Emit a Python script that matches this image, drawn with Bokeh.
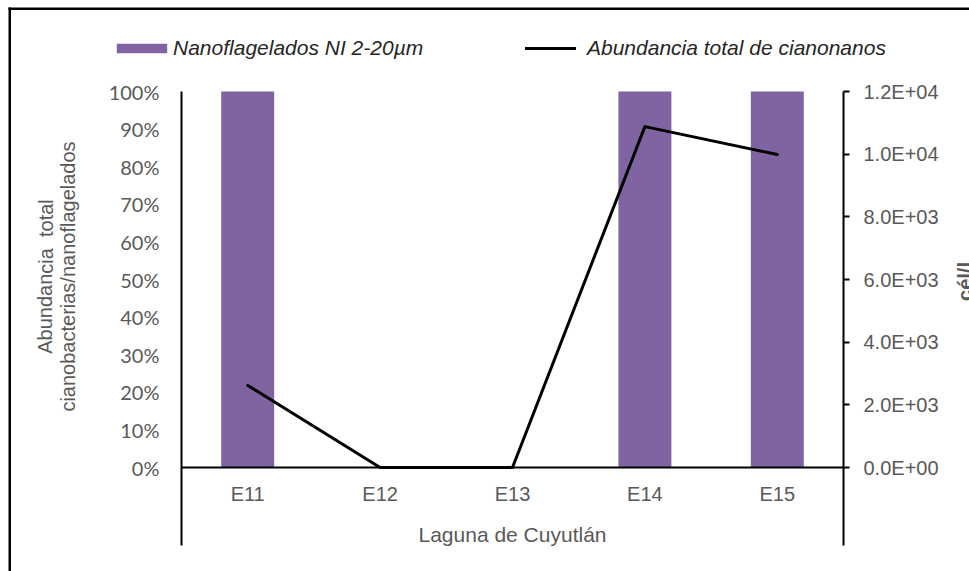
from bokeh.plotting import figure
from bokeh.models import (Range1d, LinearAxis, FixedTicker, NumeralTickFormatter,
                          Label, Legend, LegendItem, BoxAnnotation)
from bokeh.embed import file_html
from bokeh.resources import INLINE

# ---- data ----
categories = ["E11", "E12", "E13", "E14", "E15"]
nanoflagelados = [1.0, 0.0, 0.0, 1.0, 1.0]          # fraction (0-100%)
abundancia_cianonanos = [2620, 0, 0, 10880, 9990]   # cél/l
series_names = ["Nanoflagelados NI 2-20µm", "Abundancia total de cianonanos"]
left_ticks = [0, 0.1, 0.2, 0.3, 0.4, 0.5, 0.6, 0.7, 0.8, 0.9, 1.0]
right_ticks = [0, 2000, 4000, 6000, 8000, 10000, 12000]
right_tick_labels = ["0.0E+00", "2.0E+03", "4.0E+03", "6.0E+03", "8.0E+03", "1.0E+04", "1.2E+04"]
x_title = "Laguna de Cuyutlán"
y_title_lines = ["Abundancia\u00a0 total", "cianobacterias/nanoflagelados"]
y2_title = "cél/l"
right_max = 12000

PURPLE = "#8064A2"
GRAY = "#595959"
FONT = "Liberation Sans"

# ---- layout (pixels of the 969x571 canvas) ----
W, H = 969, 571
PX_L, PX_R = 181, 843            # plot area left/right
PX_T, PX_0, PX_B = 91, 467, 545  # 100% line, zero line, bottom of category border
n = len(categories)
xs = [i + 0.5 for i in range(n)]   # category slots on a numeric scale
ux = (PX_R - PX_L) / n
uy = (PX_0 - PX_T)
x_range = Range1d(-PX_L / ux, n + (W - PX_R) / ux)
y_lo, y_hi = -(H - PX_0) / uy, 1 + PX_T / uy
ext = -(PX_B - PX_0) / uy

p = figure(width=W, height=H, x_range=x_range, y_range=Range1d(y_lo, y_hi),
           output_backend="svg", toolbar_location=None,
           x_axis_location=None, y_axis_location=None,
           min_border=0, min_border_left=0, min_border_right=0,
           min_border_top=0, min_border_bottom=0)
p.outline_line_color = None
p.xgrid.visible = False
p.ygrid.visible = False
p.extra_y_ranges = {"cel": Range1d(y_lo * right_max, y_hi * right_max)}

# left axis (drawn at the left edge of the category block)
ax_l = LinearAxis(ticker=FixedTicker(ticks=left_ticks),
                  formatter=NumeralTickFormatter(format="0%"),
                  fixed_location=0, bounds=(ext, 1))
ax_l.axis_line_color = "black"
ax_l.axis_line_width = 2
ax_l.major_tick_out = 0
ax_l.major_tick_in = 0
ax_l.minor_tick_out = 0
ax_l.minor_tick_in = 0
ax_l.major_label_standoff = 22
ax_l.major_label_text_font = "Lato"
ax_l.major_label_text_font_size = "20px"
ax_l.major_label_text_color = GRAY
p.add_layout(ax_l, "left")

# right axis
ax_r = LinearAxis(y_range_name="cel", ticker=FixedTicker(ticks=right_ticks),
                  major_label_overrides={t: s for t, s in zip(right_ticks, right_tick_labels)},
                  fixed_location=n, bounds=(ext * right_max, right_max))
ax_r.axis_line_color = "black"
ax_r.axis_line_width = 2
ax_r.major_tick_out = 6
ax_r.major_tick_in = 0
ax_r.major_tick_line_width = 2
ax_r.minor_tick_out = 0
ax_r.minor_tick_in = 0
ax_r.major_label_standoff = 14
ax_r.major_label_text_font = FONT
ax_r.major_label_text_font_size = "20px"
ax_r.major_label_text_color = GRAY
p.add_layout(ax_r, "right")

# category axis at zero
ax_x = LinearAxis(ticker=FixedTicker(ticks=xs),
                  major_label_overrides={x: c for x, c in zip(xs, categories)},
                  fixed_location=0, bounds=(0, n))
ax_x.axis_line_color = "black"
ax_x.axis_line_width = 2
ax_x.major_tick_out = 0
ax_x.major_tick_in = 0
ax_x.minor_tick_out = 0
ax_x.minor_tick_in = 0
ax_x.major_label_standoff = 15
ax_x.major_label_text_font = FONT
ax_x.major_label_text_font_size = "20px"
ax_x.major_label_text_color = GRAY
p.add_layout(ax_x, "below")

# bars and line
bars = p.vbar(x=xs, top=nanoflagelados, bottom=0, width=0.4,
              fill_color=PURPLE, line_color=None)
line = p.line(x=xs, y=abundancia_cianonanos, y_range_name="cel",
              line_color="black", line_width=3, line_cap="round", line_join="round")
p.renderers = [bars, line]

# x title
p.add_layout(Label(x=(PX_L + PX_R) / 2, y=H - 534, x_units="screen", y_units="screen",
                   text=x_title, text_align="center", text_baseline="middle",
                   text_font=FONT, text_font_size="21px", text_color=GRAY))

# left axis title (two lines)
for tx, bx in zip(y_title_lines, [45, 67]):
    p.add_layout(Label(x=bx, y=H - 276, x_units="screen", y_units="screen",
                       text=tx, angle=1.5707963, text_align="center",
                       text_baseline="alphabetic", text_font=FONT,
                       text_font_size="20px", text_color=GRAY))

# right axis title (cut at the window edge)
p.add_layout(Label(x=964, y=H - 281, x_units="screen", y_units="screen",
                   text=y2_title, angle=1.5707963, text_align="center",
                   text_baseline="alphabetic", text_font=FONT,
                   text_font_size="20px", text_font_style="bold", text_color=GRAY))

# legends
def mk_legend(label, rend, sx, sy_bottom, gw, gh, standoff):
    return Legend(items=[LegendItem(label=label, renderers=[rend])],
                  location=(sx, H - sy_bottom),
                  orientation="horizontal", padding=0, margin=0, spacing=0,
                  glyph_width=gw, glyph_height=gh, label_standoff=standoff, label_height=10,
                  border_line_color=None, background_fill_alpha=0,
                  label_text_font=FONT, label_text_font_style="italic",
                  label_text_font_size="21px", label_text_color="#262626")

# the bar swatch is drawn inset by 10% of its box
p.add_layout(mk_legend(series_names[0], bars, 110, 60, 63, 12, 0))
p.add_layout(mk_legend(series_names[1], line, 525, 60, 51, 10, 11))

# chart border (Excel chart area: left and top edges visible)
p.add_layout(BoxAnnotation(left=8, right=10.5, top=7, bottom=H,
                           left_units="canvas", right_units="canvas",
                           top_units="canvas", bottom_units="canvas",
                           fill_color="black", fill_alpha=1, line_color=None))
p.add_layout(BoxAnnotation(left=8, right=W, top=7, bottom=9.5,
                           left_units="canvas", right_units="canvas",
                           top_units="canvas", bottom_units="canvas",
                           fill_color="black", fill_alpha=1, line_color=None))

open("out.html", "w").write(file_html(p, INLINE))
